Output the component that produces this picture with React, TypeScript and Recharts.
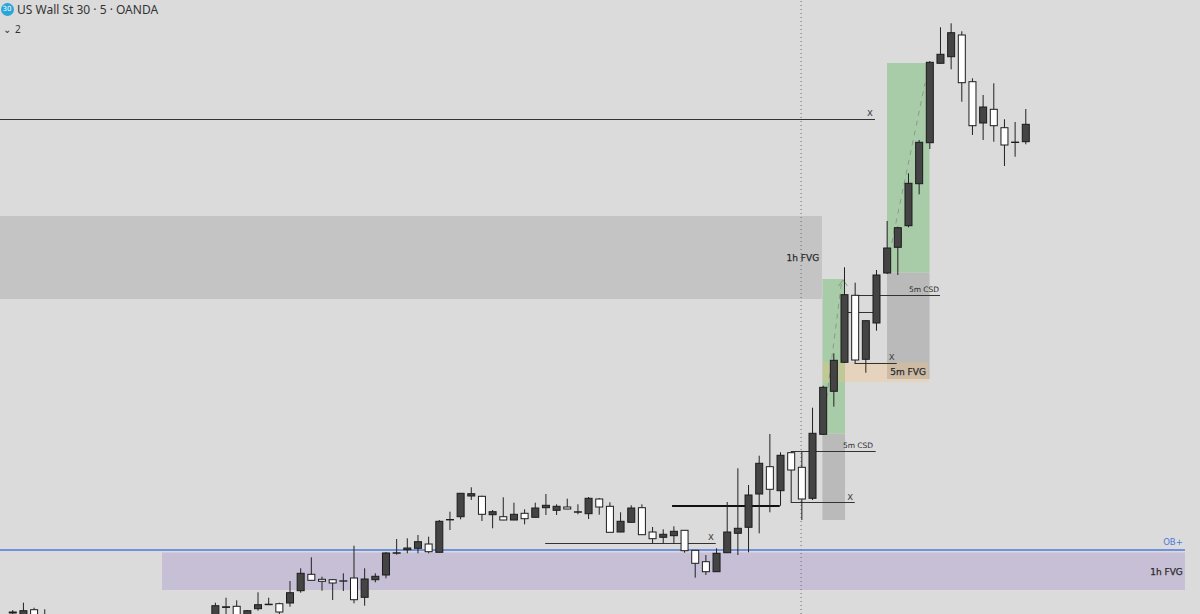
import { Bar, ComposedChart, ReferenceArea, ReferenceDot, ReferenceLine, XAxis, YAxis } from 'recharts';

const bars = [
  0, 1, 2, 3, 19, 20, 21, 22, 23, 24, 25, 26, 27, 28, 29, 30, 31, 32, 33, 34, 35, 36, 37, 38, 39, 40, 41, 42, 43, 44,
  45, 46, 47, 48, 49, 50, 51, 52, 53, 54, 55, 56, 57, 58, 59, 60, 61, 62, 63, 64, 65, 66, 67, 68, 69, 70, 71, 72, 73,
  74, 75, 76, 77, 78, 79, 80, 81, 82, 83, 84, 85, 86, 87, 88, 89, 90, 91, 92, 93, 94, 95,
];

const opens = [
  39001, 38994, 39004.3, 38994, 38996, 39006.6, 39007.7, 38994, 39005.3, 39009.3, 39010.3, 39011, 39023.3, 39039.7,
  39034.7, 39034.3, 39033.2, 39036, 39016.7, 39034.3, 39039, 39060.8, 39064.3, 39065.7, 39070, 39061.7, 39094.1,
  39097.3, 39118, 39117.7, 39099.3, 39097.3, 39094, 39100.7, 39096.7, 39106.3, 39103.7, 39107, 39101.8, 39100.3,
  39115, 39107.7, 39082, 39091.7, 39106.3, 39082, 39076.7, 39078.3, 39083.7, 39063.7, 39052.3, 39042.3, 39061.3,
  39080.7, 39086.7, 39120, 39147.3, 39123.3, 39161.3, 39146.7, 39115.7, 39179.7, 39222.7, 39251.7, 39318.7, 39254.7,
  39291, 39341, 39366.7, 39388.3, 39430.3, 39471.3, 39550.7, 39557.3, 39579, 39532.3, 39491, 39504.7, 39486.3,
  39471.9, 39472.3,
];

const highs = [
  39004, 39011.3, 39006.3, 39004.7, 39011.3, 39016.3, 39013.7, 39004, 39021.7, 39016.3, 39011.3, 39033, 39045.7,
  39056.7, 39037.3, 39035, 39040.7, 39068.3, 39045.7, 39040.7, 39062, 39075, 39075.7, 39079, 39077.3, 39094, 39102.3,
  39121, 39126.7, 39118.3, 39104, 39116.7, 39111.3, 39104.7, 39111.3, 39120, 39109.7, 39115.3, 39109.7, 39117, 39116,
  39111.7, 39101.7, 39108.7, 39109.7, 39087, 39084.7, 39087.7, 39084, 39064, 39059, 39065.7, 39112, 39145.7, 39129,
  39158.3, 39180, 39161.7, 39162.3, 39162.3, 39206.3, 39228.3, 39260.7, 39346.7, 39331.3, 39293.7, 39344, 39393,
  39387.3, 39440.7, 39474, 39553, 39586.7, 39590.7, 39582.7, 39535.7, 39519, 39530.7, 39494.7, 39492, 39505,
];

const lows = [
  38996, 38990, 38990, 38990, 38990, 38994, 38990, 38990, 39003.3, 39009, 38998, 39007.3, 39021.3, 39033.5, 39023.3,
  39014, 39023, 39010.7, 39008.3, 39031.7, 39035.7, 39059.3, 39060.7, 39060.7, 39060.7, 39061.5, 39084, 39094.7,
  39114, 39093, 39085.7, 39093.8, 39093.8, 39089.7, 39096.5, 39099, 39099, 39104.8, 39099.7, 39095, 39099.3, 39081.5,
  39081.8, 39091.5, 39079, 39070.7, 39070.7, 39070.7, 39061.3, 39036.3, 39039, 39042, 39061, 39059, 39061.7, 39080.7,
  39101.7, 39108.3, 39111.7, 39094, 39114, 39179, 39207.3, 39251, 39251, 39241.3, 39283.3, 39340, 39339, 39386.7,
  39419.7, 39465, 39550.5, 39544.7, 39512.3, 39479, 39474, 39472.3, 39448, 39457.3, 39469.7,
];

const closes = [
  39002, 39003.3, 38994, 38998, 39008.3, 39007.2, 38994, 39003.3, 39009.3, 39009.8, 39002, 39021.3, 39040.7, 39033.7,
  39032.7, 39031, 39032.8, 39014.3, 39035, 39037.7, 39061, 39061.2, 39066, 39072.3, 39062.3, 39092.7, 39094.5,
  39120.7, 39120.3, 39099.7, 39102.3, 39094, 39099.7, 39095.3, 39106, 39108.7, 39107.7, 39105, 39102.2, 39115.7,
  39107, 39081.7, 39092.7, 39106, 39079.3, 39075.3, 39079.7, 39082.7, 39063.3, 39050.7, 39042.3, 39060.7, 39082,
  39085.7, 39119, 39150.7, 39124.7, 39158.7, 39144, 39115, 39180.7, 39226.7, 39253.7, 39319.3, 39254, 39293.3, 39339,
  39366, 39386.3, 39430.7, 39471.7, 39551.7, 39559.7, 39581.3, 39531.3, 39488.3, 39507, 39488.3, 39469, 39471.5,
  39489.7,
];

const candles = bars.map((bar, i) => ({
  bar,
  open: opens[i],
  high: highs[i],
  low: lows[i],
  close: closes[i],
}));

const title = 'US Wall St 30 · 5 · OANDA';

// [bar from, bar to, price from, price to]
const hourlyGap = [-1.125, 75.96, 39315, 39398];
const hourlyBlock = [14.07, 110, 39024, 39061.5];
const greenBoxes = [
  [76, 78.12, 39180.5, 39335],
  [82.06, 86.05, 39341.5, 39551],
];
const greyBoxes = [
  [76, 78.12, 39094, 39180.5],
  [82.06, 86.05, 39235, 39341.5],
];
const fiveMinGap = [76, 85.95, 39232, 39251.7];

// [bar from, bar to, price]
const thinLevels = [
  [-1.125, 80.93, 39494.5],
  [50, 66, 39070.5],
  [73.05, 81, 39162.5],
  [73.03, 79.03, 39111.5],
  [79.05, 87.03, 39318.5],
  [79, 82.97, 39250.5],
  [78.03, 80.93, 39301.5],
];
const thickLevel = [61.9, 72, 39108];
const blockLevel = [-1.125, 110, 39064];
const cursorBar = 74;

// [bar, price, bar, price]
const dashedMoves = [
  [76.4, 39216, 77.8, 39332.3],
  [82.5, 39371, 85.63, 39531],
];
const arrowHead = [
  [77.5, 39328, 77.93, 39334],
  [77.93, 39334, 78.35, 39328],
];

// [bar, price]
const crossNotes = [
  [80.47, 39501.5],
  [65.55, 39077.5],
  [78.6, 39117.5],
  [82.5, 39257.5],
];
const csdNotes = [
  [79.34, 39169],
  [85.53, 39324.5],
];

const BG = '#dbdbdb';
const INK = '#2b2b2b';

function Candle(props: any) {
  const { x, y, width, height, payload } = props;
  const perPrice = height / (payload.high - payload.low);
  const left = x + 0.6;
  const cx = left + width / 2;
  const top = y + (payload.high - Math.max(payload.open, payload.close)) * perPrice;
  const bottom = y + (payload.high - Math.min(payload.open, payload.close)) * perPrice;
  const up = payload.close >= payload.open;
  return (
    <g>
      <line x1={cx} x2={cx} y1={y} y2={y + height} stroke="#222" strokeWidth={1} />
      <rect
        x={left}
        y={top}
        width={width}
        height={Math.max(bottom - top, 0.4)}
        fill={up ? '#444444' : '#ffffff'}
        stroke="#1c1c1c"
        strokeWidth={1}
      />
    </g>
  );
}

const note = (text: string, size: number, anchor = 'middle', color = INK, heavy = 0) =>
  (p: any) => (
    <text
      x={p.cx}
      y={p.cy}
      textAnchor={anchor as any}
      dominantBaseline="central"
      fontFamily="DejaVu Sans"
      fontSize={size}
      fill={color}
      stroke={heavy ? color : 'none'}
      strokeWidth={heavy}
    >
      {text}
    </text>
  );

export default function App() {
  return (
    <div style={{ position: 'absolute', left: 0, top: 0, width: 1200, height: 614, background: BG, overflow: 'hidden' }}>
      <ComposedChart width={1200} height={614} data={candles} margin={{ top: 0, right: 0, bottom: 0, left: 0 }}>
        <XAxis dataKey="bar" type="number" domain={[-1.125, 111.41]} allowDataOverflow hide />
        <YAxis type="number" domain={[39000, 39614]} allowDataOverflow hide />

        <ReferenceArea x1={hourlyGap[0]} x2={hourlyGap[1]} y1={hourlyGap[2]} y2={hourlyGap[3]} fill="#c4c4c4" stroke="none" fillOpacity={1} ifOverflow="visible" />
        <ReferenceArea x1={hourlyBlock[0]} x2={hourlyBlock[1]} y1={hourlyBlock[2]} y2={hourlyBlock[3]} fill="#c7bfd6" stroke="none" fillOpacity={1} ifOverflow="visible" />
        {greyBoxes.map((b, i) => (
          <ReferenceArea key={'grey' + i} x1={b[0]} x2={b[1]} y1={b[2]} y2={b[3]} fill="#bababa" stroke="none" fillOpacity={1} ifOverflow="visible" />
        ))}
        {greenBoxes.map((b, i) => (
          <ReferenceArea key={'green' + i} x1={b[0]} x2={b[1]} y1={b[2]} y2={b[3]} fill="#a8cca8" stroke="none" fillOpacity={1} ifOverflow="visible" />
        ))}
        <ReferenceArea x1={fiveMinGap[0]} x2={fiveMinGap[1]} y1={fiveMinGap[2]} y2={fiveMinGap[3]} fill="#ffbe6e" stroke="none" fillOpacity={0.28} ifOverflow="visible" />

        <ReferenceLine x={cursorBar} stroke="#666" strokeDasharray="1 3" ifOverflow="visible" zIndex={150} />
        <ReferenceLine segment={[{ x: blockLevel[0], y: blockLevel[2] }, { x: blockLevel[1], y: blockLevel[2] }]} stroke="#4f78dc" strokeWidth={1.3} ifOverflow="visible" zIndex={150} />
        {thinLevels.map((l, i) => (
          <ReferenceLine key={'lvl' + i} segment={[{ x: l[0], y: l[2] }, { x: l[1], y: l[2] }]} stroke="#333" strokeWidth={1} ifOverflow="visible" zIndex={150} />
        ))}
        <ReferenceLine segment={[{ x: thickLevel[0], y: thickLevel[2] }, { x: thickLevel[1], y: thickLevel[2] }]} stroke="#111" strokeWidth={2} ifOverflow="visible" zIndex={150} />
        {dashedMoves.map((m, i) => (
          <ReferenceLine key={'move' + i} segment={[{ x: m[0], y: m[1] }, { x: m[2], y: m[3] }]} stroke="#8c9a8c" strokeWidth={1} strokeDasharray="5 5" ifOverflow="visible" zIndex={150} />
        ))}
        {arrowHead.map((m, i) => (
          <ReferenceLine key={'head' + i} segment={[{ x: m[0], y: m[1] }, { x: m[2], y: m[3] }]} stroke="#8c9a8c" strokeWidth={1} ifOverflow="visible" zIndex={150} />
        ))}

        <Bar dataKey={(d: any) => [d.low, d.high]} barSize={7} shape={<Candle />} isAnimationActive={false} />

        {crossNotes.map((n, i) => (
          <ReferenceDot key={'x' + i} x={n[0]} y={n[1]} r={0} ifOverflow="visible" shape={note('x', 10, 'middle', '#4a4a4a')} />
        ))}
        {csdNotes.map((n, i) => (
          <ReferenceDot key={'csd' + i} x={n[0]} y={n[1]} r={0} ifOverflow="visible" shape={note('5m CSD', 7.5)} />
        ))}
        <ReferenceDot x={74.17} y={39356} r={0} ifOverflow="visible" shape={note('1h FVG', 9, 'middle', INK, 0.25)} />
        <ReferenceDot x={84.03} y={39242} r={0} ifOverflow="visible" shape={note('5m FVG', 9, 'middle', INK, 0.25)} />
        <ReferenceDot x={109.8} y={39042} r={0} ifOverflow="visible" shape={note('1h FVG', 9, 'end', INK, 0.25)} />
        <ReferenceDot x={109.8} y={39072} r={0} ifOverflow="visible" shape={note('OB+', 8.5, 'end', '#4f78dc')} />
      </ComposedChart>

      <div style={{ position: 'absolute', left: 0.5, top: 2.5, width: 13, height: 13, borderRadius: '50%', background: '#2aa5d8', color: '#fff', fontFamily: 'DejaVu Sans', fontSize: 7, lineHeight: '13px', textAlign: 'center' }}>
        30
      </div>
      <div style={{ position: 'absolute', left: 17, top: 1, fontFamily: 'Noto Sans', fontSize: 12, lineHeight: '17px', color: '#333', whiteSpace: 'nowrap' }}>
        {title}
      </div>
      <div style={{ position: 'absolute', left: 3, top: 22, fontFamily: 'Noto Sans', fontSize: 10, lineHeight: '14px', color: '#333', whiteSpace: 'nowrap' }}>
        <span style={{ marginRight: 4 }}>⌄</span>2
      </div>
    </div>
  );
}
